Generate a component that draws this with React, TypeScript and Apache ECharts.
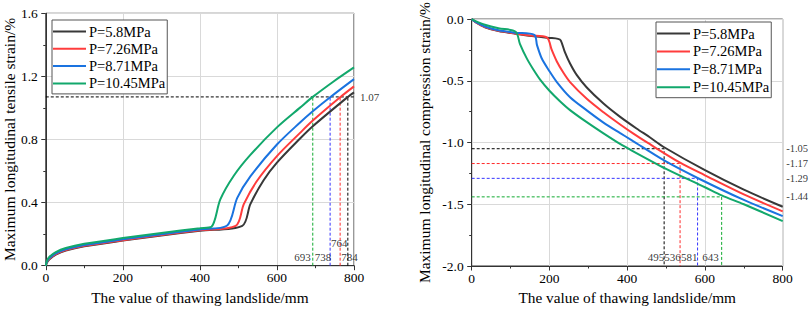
import React, { useEffect, useRef } from 'react';
import * as echarts from 'echarts';

const FONT = "'Liberation Serif', 'Times New Roman', serif";

const seriesNames = ['P=5.8MPa', 'P=7.26MPa', 'P=8.71MPa', 'P=10.45MPa'];
const curveColors = ['#383838', '#ff3c3c', '#1a73e0', '#12a86c'];
const dashColors = ['#000000', '#ff2a2a', '#3535ff', '#10aa30'];

const xTitle = 'The value of thawing landslide/mm';
const leftYTitle = 'Maximum longitudinal tensile strain/%';
const rightYTitle = 'Maximum longitudinal compression strain/%';

// ---- Tensile strain (left chart) ----
const tX58 = [0, 3, 9, 26, 52, 100, 200, 300, 400, 510, 531, 565, 600, 660, 693, 784, 800];
const tY58 = [0, 0.02, 0.04, 0.07, 0.096, 0.123, 0.159, 0.192, 0.222, 0.253, 0.39, 0.54, 0.653, 0.806, 0.884, 1.07, 1.099];
const tX726 = [0, 3, 9, 26, 52, 100, 200, 300, 400, 493, 514, 548, 600, 660, 693, 764, 800];
const tY726 = [0, 0.022, 0.043, 0.073, 0.099, 0.126, 0.162, 0.195, 0.225, 0.252, 0.39, 0.537, 0.695, 0.842, 0.92, 1.068, 1.137];
const tX871 = [0, 3, 9, 26, 52, 100, 200, 300, 400, 470, 497, 531, 600, 660, 693, 738, 800];
const tY871 = [0, 0.025, 0.047, 0.078, 0.104, 0.131, 0.167, 0.2, 0.23, 0.253, 0.43, 0.566, 0.768, 0.908, 0.979, 1.068, 1.183];
const tX1045 = [0, 3, 9, 26, 52, 100, 200, 300, 400, 430, 453, 488, 531, 600, 660, 693, 747, 800];
const tY1045 = [0, 0.03, 0.055, 0.086, 0.112, 0.139, 0.175, 0.208, 0.238, 0.247, 0.42, 0.57, 0.702, 0.877, 1.002, 1.07, 1.168, 1.257];

// ---- Compression strain (right chart) ----
const cX58 = [0, 10, 34, 69, 112, 155, 200, 222, 229, 240, 253, 270, 296, 339, 381, 424, 458, 495, 600, 700, 800];
const cY58 = [0, -0.025, -0.066, -0.097, -0.118, -0.137, -0.152, -0.16, -0.172, -0.27, -0.36, -0.452, -0.554, -0.684, -0.79, -0.886, -0.957, -1.038, -1.224, -1.382, -1.52];
const cX726 = [0, 10, 34, 69, 112, 150, 193, 206, 219, 236, 253, 296, 339, 381, 415, 450, 536, 600, 700, 800];
const cY726 = [0, -0.025, -0.065, -0.095, -0.116, -0.132, -0.148, -0.25, -0.343, -0.435, -0.51, -0.646, -0.755, -0.852, -0.926, -0.997, -1.163, -1.265, -1.42, -1.557];
const cX871 = [0, 10, 34, 69, 112, 161, 168, 180, 200, 219, 253, 296, 339, 381, 411, 495, 581, 700, 800];
const cY871 = [0, -0.022, -0.06, -0.09, -0.11, -0.128, -0.211, -0.317, -0.422, -0.51, -0.633, -0.739, -0.838, -0.922, -0.98, -1.145, -1.287, -1.465, -1.596];
const cX1045 = [0, 10, 34, 69, 113, 124, 142, 159, 176, 200, 227, 253, 296, 339, 373, 400, 500, 600, 643, 700, 800];
const cY1045 = [0, -0.016, -0.045, -0.074, -0.102, -0.2, -0.32, -0.41, -0.49, -0.58, -0.665, -0.737, -0.835, -0.926, -0.994, -1.044, -1.213, -1.362, -1.428, -1.5, -1.636];

// ---- Annotations ----
const leftThreshold = 1.07;
const leftCrossX = [784, 764, 738, 693]; // black, red, blue, green
const rightCrossX = [495, 536, 581, 643]; // black, red, blue, green
const rightCrossY = [-1.05, -1.17, -1.29, -1.44];

const zip = (xs: number[], ys: number[]) => xs.map((x, i) => [x, ys[i]]);

const tensile = [zip(tX58, tY58), zip(tX726, tY726), zip(tX871, tY871), zip(tX1045, tY1045)];
const compression = [zip(cX58, cY58), zip(cX726, cY726), zip(cX871, cY871), zip(cX1045, cY1045)];

const axisLineStyle = { color: '#333', width: 1 };

function makeXAxis(gridIndex: number) {
  return {
    type: 'value',
    gridIndex,
    min: 0,
    max: 800,
    interval: 200,
    name: xTitle,
    nameLocation: 'middle',
    nameGap: 23,
    nameTextStyle: { fontFamily: FONT, fontSize: 15.3, color: '#000' },
    axisLine: { show: true, onZero: false, lineStyle: axisLineStyle },
    axisTick: { show: true, inside: false, length: 4.5, lineStyle: axisLineStyle },
    minorTick: { show: true, splitNumber: 2, length: 2.5, lineStyle: axisLineStyle },
    axisLabel: { fontFamily: FONT, fontSize: 13.5, color: '#000', margin: 5 },
    splitLine: { show: true, lineStyle: { color: '#d9d9d9', width: 1 } },
    minorSplitLine: { show: false },
  };
}

function makeYAxis(gridIndex: number, min: number, max: number, interval: number, name: string, nameGap: number) {
  return {
    type: 'value',
    gridIndex,
    min,
    max,
    interval,
    name,
    nameLocation: 'middle',
    nameGap,
    nameTextStyle: { fontFamily: FONT, fontSize: 15.5, color: '#000' },
    axisLine: { show: true, onZero: false, lineStyle: axisLineStyle },
    axisTick: { show: true, inside: false, length: 4.5, lineStyle: axisLineStyle },
    minorTick: { show: true, splitNumber: 2, length: 2.5, lineStyle: axisLineStyle },
    axisLabel: {
      fontFamily: FONT,
      fontSize: 13.5,
      color: '#000',
      margin: 8,
      formatter: (v: number) => v.toFixed(1),
    },
    splitLine: { show: true, lineStyle: { color: '#d9d9d9', width: 1 } },
  };
}

function dashLine(grid: number, pts: number[][], color: string) {
  return {
    type: 'line',
    xAxisIndex: grid,
    yAxisIndex: grid,
    data: pts,
    symbol: 'none',
    silent: true,
    z: 1,
    lineStyle: { color, width: 1, type: [3, 2] },
  };
}

function labelItem(x: number, y: number, text: string, position: string, distance: number, dy: number, fontSize = 11) {
  return {
    value: [x, y],
    label: {
      show: true,
      formatter: text,
      position,
      distance,
      offset: [0, dy],
      fontFamily: FONT,
      fontSize,
      color: '#000',
    },
  };
}

function buildOption() {
  const series: any[] = [];
  tensile.forEach((d, i) => {
    series.push({
      name: seriesNames[i],
      type: 'line',
      xAxisIndex: 0,
      yAxisIndex: 0,
      data: d,
      symbol: 'none',
      smooth: 0.3,
      z: 5,
      lineStyle: { color: curveColors[i], width: 2 },
      itemStyle: { color: curveColors[i] },
    });
  });
  compression.forEach((d, i) => {
    series.push({
      name: seriesNames[i],
      type: 'line',
      xAxisIndex: 1,
      yAxisIndex: 1,
      data: d,
      symbol: 'none',
      smooth: 0.3,
      z: 5,
      lineStyle: { color: curveColors[i], width: 2 },
      itemStyle: { color: curveColors[i] },
    });
  });
  // left annotations
  series.push(dashLine(0, [[0, leftThreshold], [800, leftThreshold]], dashColors[0]));
  leftCrossX.forEach((x, i) => {
    series.push(dashLine(0, [[x, 0], [x, leftThreshold]], dashColors[i]));
  });
  // right annotations
  rightCrossX.forEach((x, i) => {
    const y = rightCrossY[i];
    series.push(dashLine(1, [[0, y], [x, y], [x, -2]], dashColors[i]));
  });
  // annotation labels
  const [x784, x764, x738, x693] = leftCrossX;
  series.push({
    type: 'scatter',
    xAxisIndex: 0,
    yAxisIndex: 0,
    symbolSize: 0,
    silent: true,
    clip: false,
    z: 10,
    data: [
      labelItem(x693, 0, String(x693), 'left', 2, -9),
      labelItem(x693, 0, String(x738), 'right', 2, -9),
      labelItem(x738, 0, String(x764), 'right', 1, -23),
      labelItem(x764, 0, String(x784), 'right', 1, -9),
      labelItem(800, leftThreshold, leftThreshold.toFixed(2), 'right', 6, 0),
    ],
  });
  const [r495, r536, r581, r643] = rightCrossX;
  series.push({
    type: 'scatter',
    xAxisIndex: 1,
    yAxisIndex: 1,
    symbolSize: 0,
    silent: true,
    clip: false,
    z: 10,
    data: [
      labelItem(r495, -2, String(r495), 'left', 0, -9),
      labelItem(r495, -2, String(r536), 'right', 0, -9),
      labelItem(r536, -2, String(r581), 'right', 1, -9),
      labelItem(r643, -2, String(r643), 'left', 3, -9),
      ...rightCrossY.map((y) => labelItem(800, y, y.toFixed(2), 'right', 3.5, 0, 10.5)),
    ],
  });

  const legendBase = {
    data: seriesNames,
    orient: 'vertical',
    icon: 'path://M0,0H33V2H0Z',
    itemWidth: 33,
    itemHeight: 14,
    borderColor: '#555',
    borderWidth: 1,
    backgroundColor: '#fff',
    selectedMode: false,
    textStyle: { fontFamily: FONT, fontSize: 14.5, color: '#000', padding: [0, 0, 0, -2] },
    z: 20,
  };

  return {
    animation: false,
    backgroundColor: '#fff',
    grid: [
      { left: 43.3, top: 13.3, width: 310.7, height: 252.4, show: true, borderColor: '#333', borderWidth: 1, backgroundColor: 'transparent' },
      { left: 471.7, top: 13.3, width: 311, height: 252.7, show: true, borderColor: '#333', borderWidth: 1, backgroundColor: 'transparent' },
    ],
    xAxis: [makeXAxis(0), makeXAxis(1)],
    yAxis: [
      makeYAxis(0, 0, 1.6, 0.4, leftYTitle, 25),
      makeYAxis(1, -2, 0, 0.5, rightYTitle, 39),
    ],
    legend: [
      { ...legendBase, left: 52, top: 20, itemGap: 2.3, padding: [4, 2, 3, 1] },
      { ...legendBase, left: 656, top: 22, itemGap: 2.9, padding: [4, 2, 3, 1] },
    ],
    series,
  };
}

export default function App() {
  const ref = useRef<HTMLDivElement>(null);
  useEffect(() => {
    if (!ref.current) return;
    const chart = echarts.init(ref.current, undefined, { renderer: 'svg' });
    chart.setOption(buildOption() as any);
    return () => chart.dispose();
  }, []);
  return (
    <div
      ref={ref}
      style={{ position: 'absolute', left: 0, top: 0, width: 809, height: 314 }}
    />
  );
}
